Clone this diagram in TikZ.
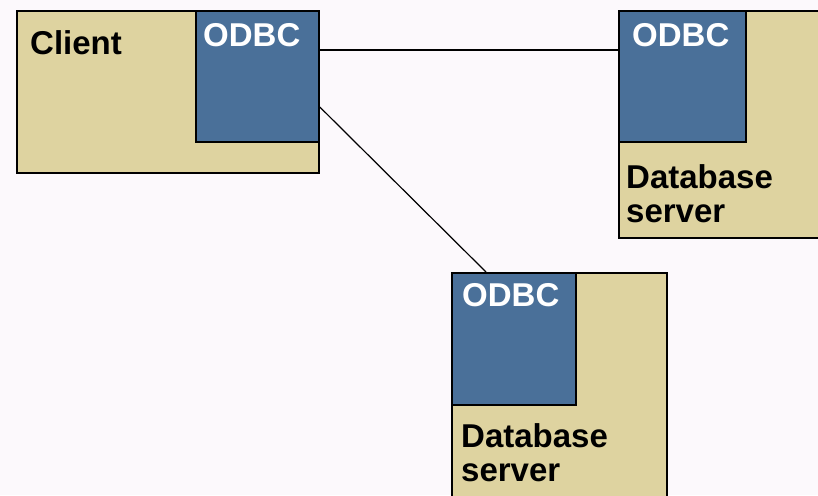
\documentclass[tikz,border=0pt]{standalone}
\usepackage{fontspec}
\setmainfont{Liberation Sans}
\definecolor{tan}{RGB}{222,211,160}
\definecolor{odbcblue}{RGB}{74,112,153}
\definecolor{bg}{RGB}{252,249,252}
\tikzset{
  hostbox/.style={draw=black, line width=1.8pt, fill=tan, anchor=north west, inner sep=0pt},
  odbcbox/.style={draw=black, line width=1.8pt, fill=odbcblue, anchor=north west, inner sep=0pt},
  lbl/.style={anchor=base west, inner sep=0pt, font=\fontsize{33}{34}\selectfont\bfseries},
  odbclbl/.style={lbl, text=white},
  conn/.style={draw=black, line width=1.2pt}
}
\begin{document}
\begin{tikzpicture}[x=1pt,y=-1pt]
\fill[bg] (0,0) rectangle (818,495);
\useasboundingbox (0,0) rectangle (818,495);
\clip (0,0) rectangle (818,495);
% Client
\node[hostbox, minimum width=302pt, minimum height=162pt] (client) at (16,10) {};
\node[odbcbox, minimum width=123pt, minimum height=131pt] (codbc) at (195,10) {};
\node[lbl] (clientlbl) at (30,55) {Client};
\node[odbclbl] (codbclbl) at (203,46) {ODBC};
% Server 1
\node[hostbox, minimum width=220pt, minimum height=227pt] (s1) at (618,10) {};
\node[odbcbox, minimum width=127pt, minimum height=131pt] (s1odbc) at (618,10) {};
\node[odbclbl] (s1odbclbl) at (632,46) {ODBC};
\node[lbl, align=left, anchor=north west] (s1lbl) at (626,164) {Database\\server};
% Server 2
\node[hostbox, minimum width=215pt, minimum height=240pt] (s2) at (451,272) {};
\node[odbcbox, minimum width=124pt, minimum height=132pt] (s2odbc) at (451,272) {};
\node[odbclbl] (s2odbclbl) at (462,306) {ODBC};
\node[lbl, align=left, anchor=north west] (s2lbl) at (461,423) {Database\\server};
% Connectors
\draw[conn] ([yshift=-40pt]codbc.north east) -- ([yshift=-40pt]s1odbc.north west);
\draw[conn] ([yshift=-97pt]codbc.north east) -- ([xshift=35pt]s2odbc.north west);
\end{tikzpicture}
\end{document}
